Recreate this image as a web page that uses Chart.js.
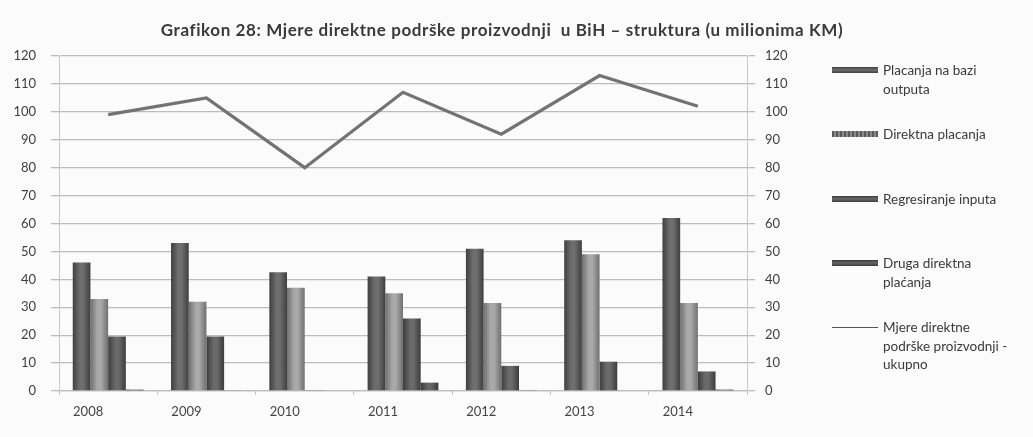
<!DOCTYPE html>
<html>
<head>
<meta charset="utf-8">
<script src="https://cdn.jsdelivr.net/npm/chart.js@4.4.1/dist/chart.umd.min.js"></script>
<style>
  html, body { margin: 0; padding: 0; background: #fbfbfb; }
  #wrap { position: relative; width: 1033px; height: 437px; overflow: hidden; }
  #c { position: absolute; left: 0; top: 0; }
  #title { position: absolute; left: 0; width: 1004px; top: 19px; text-align: center;
    font: bold 17px "Lato", "Open Sans", sans-serif; color: #3a3a3a; letter-spacing: 0.6px; }
  #legend { position: absolute; left: 0; top: 0; width: 1033px; height: 437px; pointer-events: none;
    font: 13.5px "Lato", "Open Sans", sans-serif; color: #3a3a3a; }
  .li { position: absolute; left: 832px; }
  .sw { position: absolute; left: 0; width: 46px; }
  .tx { position: absolute; left: 51px; white-space: nowrap; line-height: 18.5px; }
</style>
</head>
<body>
<div id="wrap">
  <canvas id="c" width="1033" height="437"></canvas>
  <div id="title">Grafikon 28: Mjere direktne podrške proizvodnji&nbsp; u BiH – struktura (u milionima KM)</div>
  <div id="legend"></div>
</div>
<script>
const categories = ['2008', '2009', '2010', '2011', '2012', '2013', '2014'];
const seriesNames = ['Placanja na bazi outputa', 'Direktna placanja', 'Regresiranje inputa', 'Druga direktna plaćanja', 'Mjere direktne podrške proizvodnji - ukupno'];
const placanjaOutputa = [46, 53, 42.5, 41, 51, 54, 62];
const direktnaPlacanja = [33, 32, 37, 35, 31.5, 49, 31.5];
const regresiranjeInputa = [19.5, 19.5, 0.3, 26, 9, 10.5, 7];
const drugaDirektna = [0.5, 0.2, 0, 3, 0.3, 0, 0.5];
const ukupno = [99, 105, 80, 107, 92, 113, 102];
const yTicks = [0, 10, 20, 30, 40, 50, 60, 70, 80, 90, 100, 110, 120];

const legendLines = [
  ['Placanja na bazi', 'outputa'],
  ['Direktna placanja'],
  ['Regresiranje inputa'],
  ['Druga direktna', 'plaćanja'],
  ['Mjere direktne', 'podrške proizvodnji -', 'ukupno']
];

const CAT_PCT = 0.72;
const palettes = [
  { edge: '#3f3f3f', mid: '#6e6e6e', solid: '#4e4e4e' },
  { edge: '#6f6f6f', mid: '#a9a9a9', solid: '#8a8a8a' },
  { edge: '#3c3c3c', mid: '#6a6a6a', solid: '#4b4b4b' },
  { edge: '#3a3a3a', mid: '#666666', solid: '#4a4a4a' }
];

function barFill(pi) {
  return function (ctx) {
    const p = palettes[pi];
    if (ctx.type !== 'data') return p.solid;
    const chart = ctx.chart;
    const xs = chart.scales && chart.scales.x;
    if (!xs || !chart.chartArea) return p.solid;
    const cw = (chart.chartArea.right - chart.chartArea.left) / categories.length;
    const bw = cw * CAT_PCT / 4;
    const cx = xs.getPixelForValue(ctx.dataIndex);
    const left = cx - cw * CAT_PCT / 2 + pi * bw;
    const g = chart.ctx.createLinearGradient(left, 0, left + bw, 0);
    g.addColorStop(0, p.edge);
    g.addColorStop(0.4, p.mid);
    g.addColorStop(0.6, p.mid);
    g.addColorStop(1, p.edge);
    return g;
  };
}

const barData = [placanjaOutputa, direktnaPlacanja, regresiranjeInputa, drugaDirektna];
const datasets = barData.map((d, i) => ({
  type: 'bar',
  label: seriesNames[i],
  data: d,
  backgroundColor: barFill(i),
  borderWidth: 0,
  categoryPercentage: CAT_PCT,
  barPercentage: 1,
  yAxisID: 'y',
  order: 2
}));
datasets.push({
  type: 'line',
  label: seriesNames[4],
  data: ukupno,
  borderColor: '#737373',
  borderWidth: 3.2,
  pointRadius: 0,
  tension: 0,
  fill: false,
  yAxisID: 'y2',
  order: 1
});

const tickFont = { family: '"Lato", "Open Sans", sans-serif', size: 13 };

const chart = new Chart(document.getElementById('c'), {
  data: { labels: categories, datasets: datasets },
  options: {
    responsive: false,
    animation: false,
    layout: { padding: { top: 56, right: 236, left: 0, bottom: 0 } },
    plugins: { legend: { display: false }, title: { display: false }, tooltip: { enabled: false } },
    scales: {
      x: {
        offset: true,
        grid: { display: true, offset: true, drawOnChartArea: false, drawTicks: true, tickLength: 4, color: '#c4c4c4' },
        border: { display: true, color: '#bdbdbd', width: 1.3 },
        ticks: { font: tickFont, color: '#444', padding: 9, labelOffset: -20, maxRotation: 0 },
        afterFit: s => { s.height = 46; }
      },
      y: {
        position: 'left',
        min: 0, max: 120,
        afterBuildTicks: s => { s.ticks = yTicks.map(v => ({ value: v })); },
        grid: { color: '#bcbcbc', lineWidth: 1.3, tickLength: 8 },
        border: { display: true, color: '#c8c8c8', width: 1 },
        ticks: { font: tickFont, color: '#3e3e3e', padding: 15 },
        afterFit: s => { s.width = 59; }
      },
      y2: {
        position: 'right',
        min: 0, max: 120,
        afterBuildTicks: s => { s.ticks = yTicks.map(v => ({ value: v })); },
        grid: { drawOnChartArea: false, color: '#bcbcbc', lineWidth: 1.3, tickLength: 8 },
        border: { display: true, color: '#c8c8c8', width: 1 },
        ticks: { font: tickFont, color: '#3e3e3e', padding: 10 },
        afterFit: s => { s.width = 50; }
      }
    }
  }
});
chart.update('none');

// HTML legend built from the chart's datasets
const legendTops = [70, 134, 199, 263, 327];
const legendEl = document.getElementById('legend');
chart.data.datasets.forEach((ds, i) => {
  const item = document.createElement('div');
  item.className = 'li';
  item.style.top = legendTops[i] + 'px';
  const sw = document.createElement('div');
  sw.className = 'sw';
  if (ds.type === 'line') {
    sw.style.top = '0px'; sw.style.height = '1px'; sw.style.background = '#555';
  } else {
    const p = palettes[i];
    sw.style.top = '-3px'; sw.style.height = '6px';
    sw.style.background = i === 1
      ? 'repeating-linear-gradient(90deg,#5a5a5a 0 2px,#8c8c8c 2px 4px)'
      : 'linear-gradient(180deg,' + p.edge + ',' + p.mid + ',' + p.edge + ')';
  }
  const tx = document.createElement('div');
  tx.className = 'tx';
  tx.style.top = '-9px';
  tx.innerHTML = legendLines[i].join('<br>');
  item.appendChild(sw);
  item.appendChild(tx);
  legendEl.appendChild(item);
});
</script>
</body>
</html>
